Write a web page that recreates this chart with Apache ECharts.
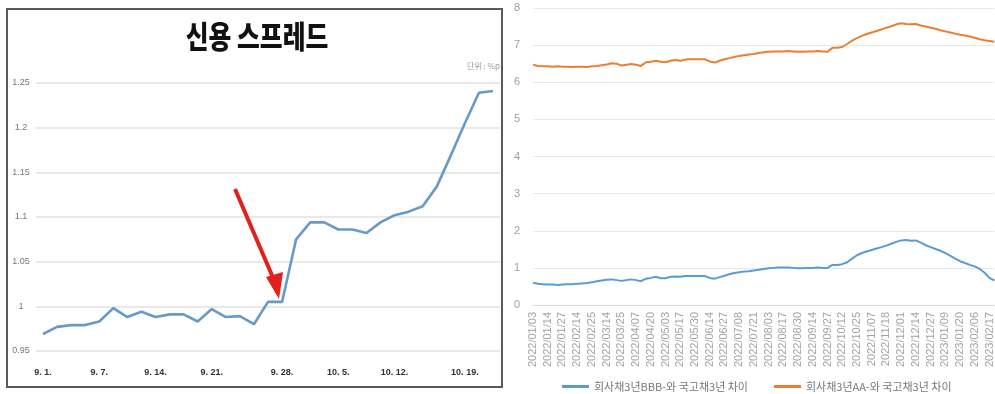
<!DOCTYPE html>
<html>
<head>
<meta charset="utf-8">
<script src="https://cdn.jsdelivr.net/npm/echarts@6/dist/echarts.min.js"></script>
<style>
html,body{margin:0;padding:0;background:#fff;}
#c{width:995px;height:394px;}
</style>
</head>
<body>
<div id="c"></div>
<script>
// ---------- Left chart: 신용 스프레드 ----------
const leftDates = ['9. 1.','9. 2.','9. 5.','9. 6.','9. 7.','9. 8.','9. 12.','9. 13.','9. 14.','9. 15.','9. 16.','9. 19.','9. 21.','9. 22.','9. 23.','9. 26.','9. 27.','9. 28.','9. 29.','9. 30.','10. 4.','10. 5.','10. 6.','10. 7.','10. 11.','10. 12.','10. 13.','10. 14.','10. 17.','10. 18.','10. 19.','10. 20.','10. 21.'];
const leftTickLabels = ['9. 1.','9. 7.','9. 14.','9. 21.','9. 28.','10. 5.','10. 12.','10. 19.'];
const creditSpread = [0.969,0.977,0.979,0.979,0.983,0.998,0.988,0.994,0.988,0.991,0.991,0.983,0.997,0.988,0.989,0.980,1.005,1.005,1.075,1.094,1.094,1.086,1.086,1.082,1.094,1.102,1.106,1.112,1.134,1.169,1.205,1.239,1.241];
const leftYTicks = [0.95, 1.25, 0.05]; // min, max, step

// ---------- Right chart ----------
const rightDates = [
'2022/01/03','2022/01/06','2022/01/11','2022/01/14','2022/01/19','2022/01/24','2022/01/27','2022/02/07','2022/02/10',
'2022/02/14','2022/02/17','2022/02/22','2022/02/25','2022/03/03','2022/03/08','2022/03/14','2022/03/17','2022/03/22',
'2022/03/25','2022/03/30','2022/04/04','2022/04/07','2022/04/12','2022/04/15','2022/04/20','2022/04/25','2022/04/28',
'2022/05/03','2022/05/06','2022/05/11','2022/05/17','2022/05/20','2022/05/25','2022/05/30','2022/06/03','2022/06/09',
'2022/06/14','2022/06/17','2022/06/22','2022/06/27','2022/06/30','2022/07/05','2022/07/08','2022/07/13','2022/07/18',
'2022/07/21','2022/07/26','2022/07/29','2022/08/03','2022/08/08','2022/08/11','2022/08/17','2022/08/22','2022/08/25',
'2022/08/30','2022/09/02','2022/09/07','2022/09/14','2022/09/19','2022/09/22','2022/09/27','2022/09/30','2022/10/06',
'2022/10/12','2022/10/17','2022/10/20','2022/10/25','2022/10/28','2022/11/02','2022/11/07','2022/11/10','2022/11/15',
'2022/11/18','2022/11/23','2022/11/28','2022/12/01','2022/12/06','2022/12/09','2022/12/14','2022/12/19','2022/12/22',
'2022/12/27','2022/12/30','2023/01/04','2023/01/09','2023/01/12','2023/01/17','2023/01/20','2023/01/27','2023/02/01',
'2023/02/06','2023/02/09','2023/02/14','2023/02/17','2023/02/22'];
const bbbSpread = [
0.60,0.57,0.56,0.55,0.55,0.54,0.55,0.56,0.56,0.57,0.58,0.59,0.61,0.64,0.66,0.68,0.69,0.67,0.65,0.67,
0.69,0.67,0.64,0.71,0.73,0.76,0.72,0.72,0.76,0.77,0.76,0.78,0.78,0.78,0.78,0.78,0.73,0.71,0.75,0.79,
0.83,0.86,0.88,0.90,0.91,0.93,0.95,0.97,0.99,1.00,1.01,1.01,1.01,1.00,0.99,0.99,1.00,1.00,1.01,1.00,
1.00,1.08,1.08,1.10,1.15,1.25,1.34,1.40,1.44,1.48,1.52,1.56,1.60,1.65,1.70,1.74,1.75,1.73,1.74,1.68,
1.61,1.56,1.51,1.46,1.40,1.33,1.25,1.18,1.13,1.08,1.04,0.97,0.87,0.73,0.66];
const aaSpread = [
6.47,6.44,6.43,6.43,6.42,6.43,6.42,6.42,6.41,6.42,6.42,6.41,6.43,6.44,6.46,6.48,6.51,6.50,6.45,6.47,
6.49,6.47,6.44,6.54,6.55,6.58,6.55,6.54,6.58,6.60,6.58,6.61,6.62,6.62,6.62,6.62,6.56,6.53,6.58,6.62,
6.65,6.68,6.71,6.73,6.75,6.76,6.79,6.81,6.82,6.83,6.83,6.83,6.84,6.83,6.82,6.82,6.83,6.83,6.84,6.83,
6.82,6.93,6.93,6.95,7.03,7.12,7.19,7.25,7.30,7.34,7.38,7.42,7.47,7.51,7.56,7.59,7.57,7.56,7.57,7.53,
7.50,7.47,7.44,7.40,7.37,7.34,7.31,7.28,7.26,7.23,7.20,7.16,7.13,7.11,7.09];
const seriesNames = ['회사채3년BBB-와 국고채3년 차이','회사채3년AA-와 국고채3년 차이'];

const chart = echarts.init(document.getElementById('c'), null, {renderer:'canvas'});
const narrow = "'Liberation Sans Narrow','Liberation Sans',Arial,sans-serif";
const kr = "'Noto Sans CJK KR','Noto Sans',sans-serif";

chart.setOption({
  backgroundColor:'#fff',
  animation:false,
  title:[{
    text:'단위 : %p', left:462, top:57,
    textStyle:{fontFamily:kr, fontSize:8, fontWeight:'normal', color:'#999'}
  }],
  legend:{
    left:557, top:376, itemWidth:27, itemHeight:3, itemGap:26,
    icon:'rect',
    textStyle:{fontFamily:kr, fontSize:11, color:'#777'},
    data:seriesNames
  },
  grid:[
    {left:36, top:83, width:464, height:268},
    {left:43, top:83, width:450, height:268},
    {left:533, top:8, width:465, height:297}
  ],
  xAxis:[
    {gridIndex:0, type:'value', min:0, max:1, show:false},
    {gridIndex:1, type:'category', data:leftDates, boundaryGap:false,
      axisLine:{show:false}, axisTick:{show:false},
      axisLabel:{interval:(i,v)=>leftTickLabels.includes(v), margin:17,
        fontFamily:narrow, fontSize:9, fontWeight:'bold', color:'#333'}},
    {gridIndex:2, type:'category', data:rightDates, boundaryGap:false,
      axisLine:{show:true, lineStyle:{color:'#d4d4d4', type:'dotted', width:1}},
      axisTick:{show:false},
      axisLabel:{interval:2, rotate:90, margin:7, fontFamily:"'Liberation Sans',Arial,sans-serif", fontSize:11, color:'#a3a3a3'}}
  ],
  yAxis:[
    {gridIndex:0, type:'value', min:leftYTicks[0], max:leftYTicks[1], interval:leftYTicks[2],
      axisLine:{show:false}, axisTick:{show:false},
      splitLine:{lineStyle:{color:'#e2e2e2', width:1.5}},
      axisLabel:{margin:15, align:'center', fontFamily:narrow, fontSize:9, color:'#777'}},
    {gridIndex:1, type:'value', min:leftYTicks[0], max:leftYTicks[1], show:false, splitLine:{show:false}},
    {gridIndex:2, type:'value', min:0, max:8, interval:1,
      axisLine:{show:false}, axisTick:{show:false},
      splitLine:{lineStyle:{color:'#e8e8e8', width:1}},
      axisLabel:{margin:13, fontFamily:"'Liberation Sans',Arial,sans-serif", fontSize:11, color:'#a0a0a0'}}
  ],
  series:[
    {type:'line', name:'신용 스프레드', xAxisIndex:1, yAxisIndex:1, data:creditSpread,
      showSymbol:false, lineStyle:{color:'#6799c9', width:2.6}, itemStyle:{color:'#6799c9'}},
    {type:'line', name:seriesNames[0], xAxisIndex:2, yAxisIndex:2, data:bbbSpread,
      showSymbol:false, lineStyle:{color:'#5b9bd5', width:2}, itemStyle:{color:'#5b9bd5'}},
    {type:'line', name:seriesNames[1], xAxisIndex:2, yAxisIndex:2, data:aaSpread,
      showSymbol:false, lineStyle:{color:'#ed7d31', width:2}, itemStyle:{color:'#ed7d31'}}
  ],
  graphic:[
    {type:'text', x:257, y:36, scaleX:0.8, z:100,
      style:{text:'신용 스프레드', fontFamily:kr, fontSize:31, fontWeight:900, fill:'#111',
        textAlign:'center', textVerticalAlign:'middle'}},
    {type:'rect', shape:{x:7, y:9, width:495, height:378}, style:{fill:null, stroke:'#5a5a5a', lineWidth:2}, z:100},
    {type:'line', shape:{x1:235, y1:189, x2:274, y2:280}, style:{stroke:'#e3211c', lineWidth:4}, z:100},
    {type:'polygon', shape:{points:[[266,277],[283,272],[279,299]]}, style:{fill:'#e3211c'}, z:100}
  ]
});
</script>
</body>
</html>
